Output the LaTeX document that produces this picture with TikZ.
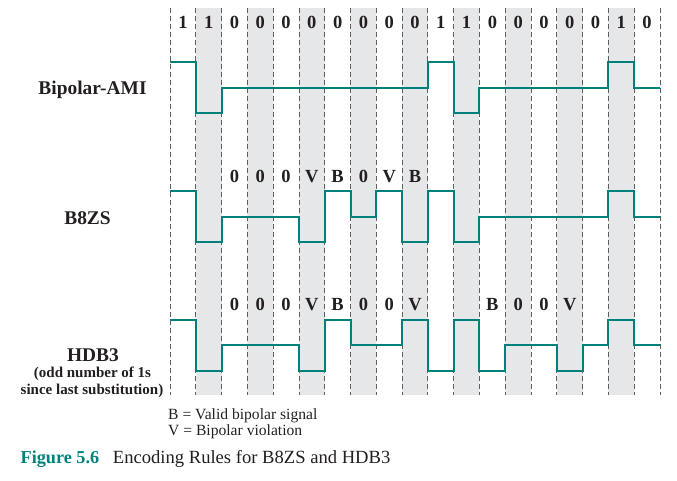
\documentclass[tikz,border=0pt]{standalone}
\usepackage{fontspec}
\setmainfont{Liberation Serif}
\usepackage{xcolor}

\definecolor{wavecol}{RGB}{0,128,122}
\definecolor{figcol}{RGB}{0,130,124}
\definecolor{shadecol}{RGB}{230,231,233}
\definecolor{gridcol}{RGB}{95,95,95}
\definecolor{textcol}{RGB}{35,31,32}

\tikzset{
	wave/.style={draw=wavecol, line width=2pt},
	gridline/.style={draw=gridcol, line width=0.9pt, dash pattern=on 5pt off 3pt},
	bitlbl/.style={font=\bfseries\fontsize{18.5}{20}\selectfont, text=textcol, anchor=base, inner sep=0pt},
	rowlbl/.style={font=\bfseries\fontsize{19.4}{21}\selectfont, text=textcol, anchor=base, inner sep=0pt},
	sublbl/.style={font=\bfseries\fontsize{15}{17}\selectfont, text=textcol, anchor=base, inner sep=0pt},
	legendlbl/.style={font=\fontsize{15.6}{17}\selectfont, text=textcol, anchor=base west, inner sep=0pt}
}

\begin{document}
\begin{tikzpicture}[x=1pt, y=-1pt]
	\useasboundingbox (0,0) rectangle (677,480);

	% one unit = one bit cell
	\begin{scope}[shift={(170,0)}, x=25.79pt, y=-25.79pt]
		\foreach \i in {1,3,...,17}
			\fill[shadecol] (\i,0.31) rectangle (\i+1,15.32);
		\foreach \i in {0,...,19}
			\draw[gridline] (\i,0.31) -- (\i,15.32);

		% data bits
		\foreach \b [count=\i from 0] in {1,1,0,0,0,0,0,0,0,0,1,1,0,0,0,0,0,1,0}
			\node[bitlbl] (bit\i) at (\i+0.5,1.124) {\b};

		% substitution marks
		\foreach \b [count=\i from 2] in {0,0,0,V,B,0,V,B}
			\node[bitlbl] (bz\i) at (\i+0.5,7.057) {\b};
		\foreach \b [count=\i from 2] in {0,0,0,V,B,0,0,V}
			\node[bitlbl] (hd\i) at (\i+0.5,12.04) {\b};
		\foreach \b [count=\i from 12] in {B,0,0,V}
			\node[bitlbl] (hd\i) at (\i+0.5,12.04) {\b};

		% Bipolar-AMI
		\draw[wave] (0,2.4) \foreach \l [count=\i from 0] in {1,-1,0,0,0,0,0,0,0,0,1,-1,0,0,0,0,0,1,0}
			{ -- (\i,{3.4-(\l)}) -- (\i+1,{3.4-(\l)}) };
		% B8ZS
		\draw[wave] (0,7.4) \foreach \l [count=\i from 0] in {1,-1,0,0,0,-1,1,0,1,-1,1,-1,0,0,0,0,0,1,0}
			{ -- (\i,{8.4-(\l)}) -- (\i+1,{8.4-(\l)}) };
		% HDB3
		\draw[wave] (0,12.39) \foreach \l [count=\i from 0] in {1,-1,0,0,0,-1,1,0,0,1,-1,1,-1,0,0,-1,0,1,0}
			{ -- (\i,{13.39-(\l)}) -- (\i+1,{13.39-(\l)}) };
	\end{scope}

	\node[rowlbl] (ami) at (92.5,94) {Bipolar-AMI};
	\node[rowlbl] (b8zs) at (87.5,224) {B8ZS};
	\node[rowlbl] (hdb) at (93,361) {HDB3};
	\node[sublbl] (hdbodd) at (92.5,377) {(odd number of 1s};
	\node[sublbl] (hdbsince) at (92,394) {since last substitution)};

	\node[legendlbl] (legB) at (168,419) {B = Valid bipolar signal};
	\node[legendlbl] (legV) at (168,435.7) {V = Bipolar violation};

	\node[anchor=base west, inner sep=0pt, text=figcol, font=\bfseries\fontsize{18.2}{20}\selectfont] (fignum) at (20.5,463) {Figure 5.6};
	\node[anchor=base west, inner sep=0pt, text=textcol, font=\fontsize{18.6}{20}\selectfont] (figttl) at (112.7,463) {Encoding Rules for B8ZS and HDB3};
\end{tikzpicture}
\end{document}
